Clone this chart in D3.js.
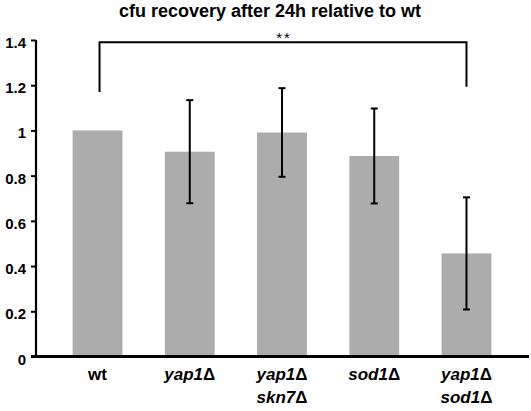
<!DOCTYPE html>
<html>
<head>
<meta charset="utf-8">
<script src="https://cdn.jsdelivr.net/npm/d3@7"></script>
<style>
  html, body { margin: 0; padding: 0; background: #fff; }
  svg { display: block; font-family: Arial, "Liberation Sans", sans-serif; }
</style>
</head>
<body>
<svg id="chart" width="531" height="411"></svg>
<script>
// ---- data ----
const categories = ["wt", "yap1Δ", "yap1Δ skn7Δ", "sod1Δ", "yap1Δ sod1Δ"];
const values = [1.0, 0.906, 0.991, 0.887, 0.456];
const errors = [null, 0.228, 0.196, 0.21, 0.248];
const yTicks = [0, 0.2, 0.4, 0.6, 0.8, 1, 1.2, 1.4];
const title = "cfu recovery after 24h relative to wt";
const sigLabel = "**";
const sigFrom = "wt", sigTo = "yap1Δ sod1Δ";
const sigTop = 1.39, sigLegLeft = 1.17, sigLegRight = 1.193;

// ---- layout ----
const svg = d3.select("#chart");
const y = d3.scaleLinear().domain([0, 1.4]).range([356.5, 40]);
const x = d3.scaleBand().domain(categories).range([51.4, 512.6])
  .paddingInner(0.46).paddingOuter(0.23);

// title
svg.append("text")
  .attr("x", 270).attr("y", 17)
  .attr("text-anchor", "middle")
  .attr("font-size", 18).attr("font-weight", "bold")
  .attr("fill", "#000")
  .text(title);

// bars
svg.append("g").selectAll("rect").data(categories).join("rect")
  .attr("x", d => x(d))
  .attr("width", x.bandwidth())
  .attr("y", (d, i) => y(values[i]))
  .attr("height", (d, i) => y(0) - y(values[i]))
  .attr("fill", "#acacac");

// error bars
const eg = svg.append("g").attr("stroke", "#000").attr("stroke-width", 2);
categories.forEach((c, i) => {
  if (errors[i] == null) return;
  const cx = x(c) + x.bandwidth() / 2;
  const hi = y(values[i] + errors[i]), lo = y(values[i] - errors[i]);
  eg.append("line").attr("x1", cx).attr("x2", cx).attr("y1", hi).attr("y2", lo);
  eg.append("line").attr("x1", cx - 3.5).attr("x2", cx + 3.5).attr("y1", hi).attr("y2", hi);
  eg.append("line").attr("x1", cx - 3.5).attr("x2", cx + 3.5).attr("y1", lo).attr("y2", lo);
});

// y axis
const yAxis = d3.axisLeft(y).tickValues(yTicks).tickSize(5).tickPadding(5)
  .tickFormat(d => d3.format("")(+d.toFixed(1)));
const yg = svg.append("g").attr("transform", "translate(36,0)").call(yAxis);
yg.select(".domain").attr("stroke", "#000").attr("stroke-width", 2.2)
  .attr("d", `M0,${y(1.4)}V${y(0)}`);
yg.selectAll(".tick line").attr("stroke", "#000").attr("stroke-width", 2);
yg.selectAll(".tick text")
  .attr("font-size", 15).attr("font-weight", "bold")
  .attr("font-family", "Arial, 'Liberation Sans', sans-serif")
  .attr("fill", "#000").attr("dy", "0.5em");

// x baseline
svg.append("line")
  .attr("x1", 31).attr("x2", 529)
  .attr("y1", y(0)).attr("y2", y(0))
  .attr("stroke", "#000").attr("stroke-width", 3);

// x labels
const xl = svg.append("g");
categories.forEach((c, i) => {
  const cx = x(c) + x.bandwidth() / 2;
  const lines = c.split(" ");
  lines.forEach((ln, j) => {
    const t = xl.append("text")
      .attr("x", cx).attr("y", 380 + j * 23)
      .attr("text-anchor", "middle")
      .attr("font-size", 17).attr("font-weight", "bold").attr("fill", "#000");
    if (ln.endsWith("Δ")) {
      t.append("tspan").attr("font-style", "italic").text(ln.slice(0, -1));
      t.append("tspan").text("Δ");
    } else {
      t.text(ln);
    }
  });
});

// significance bracket
const bx1 = x(sigFrom) + x.bandwidth() / 2 + 2;
const bx2 = x(sigTo) + x.bandwidth() / 2;
svg.append("path")
  .attr("d", `M${bx1},${y(sigLegLeft)}V${y(sigTop)}H${bx2}V${y(sigLegRight)}`)
  .attr("fill", "none").attr("stroke", "#000").attr("stroke-width", 2);
svg.append("text")
  .attr("x", (bx1 + bx2) / 2 + 1).attr("y", y(sigTop) + 1)
  .attr("text-anchor", "middle").attr("font-size", 15).attr("fill", "#000")
  .attr("letter-spacing", 2)
  .text(sigLabel);
</script>
</body>
</html>
